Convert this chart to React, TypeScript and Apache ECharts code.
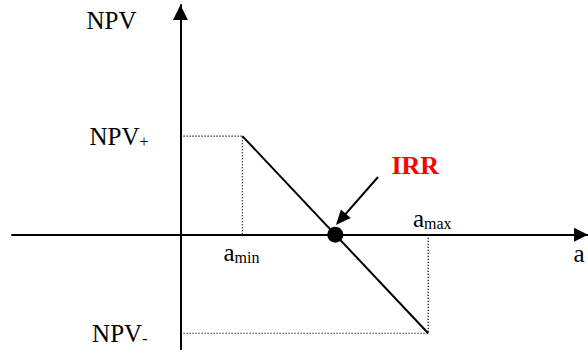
import React, { useEffect, useRef } from "react";
import * as echarts from "echarts";

// Key values on the horizontal axis (a): a_min, IRR, a_max
const keyA = [1, 2.5, 4];
// Key values on the vertical axis (NPV): NPV+, 0, NPV-
const keyNPV = [1, 0, -1];
// Axis ranges
const rangeA = [-2.72, 6.58];
const rangeNPV = [-1.17, 2.33];
// IRR pointer (tail, head) in data coordinates
const pointerTail = [3.19, 0.585];
const pointerHead = [2.59, 0.155];
// Texts
const axisNames = ["a", "NPV"];
const subNames = ["min", "max", "+", "-"];
const irrText = "IRR";

const FONT = "'Liberation Serif', 'Times New Roman', serif";

const rich = {
  m: { fontSize: 25, lineHeight: 26, fontFamily: FONT, color: "#000" },
  s: {
    fontSize: 16,
    lineHeight: 11,
    verticalAlign: "bottom",
    fontFamily: FONT,
    color: "#000",
  },
};

export default function App() {
  const ref = useRef<HTMLDivElement>(null);

  useEffect(() => {
    if (!ref.current) return;
    const chart = echarts.init(ref.current, undefined, { renderer: "svg" });
    const [aMin, aIrr, aMax] = keyA;
    const [npvPlus, zero, npvMinus] = keyNPV;

    const dotted = { color: "#000", width: 1.2, type: [1.2, 1.8] as any };

    chart.setOption({
      animation: false,
      backgroundColor: "#fff",
      grid: { left: 12, right: 0, top: 5, bottom: 0, containLabel: false },
      xAxis: {
        type: "value",
        min: rangeA[0],
        max: rangeA[1],
        axisLine: {
          onZero: true,
          lineStyle: { color: "#000", width: 2 },
          symbol: ["none", "triangle"],
          symbolSize: [14, 14],
          symbolOffset: [0, -7],
        },
        axisTick: { show: false },
        axisLabel: { show: false },
        splitLine: { show: false },
      },
      yAxis: {
        type: "value",
        min: rangeNPV[0],
        max: rangeNPV[1],
        name: axisNames[1],
        nameLocation: "end",
        nameGap: -15,
        nameTextStyle: {
          fontFamily: FONT,
          fontSize: 25,
          color: "#000",
          align: "right",
          verticalAlign: "middle",
          padding: [0, 44, 0, 0],
        },
        axisLine: {
          onZero: true,
          lineStyle: { color: "#000", width: 2 },
          symbol: ["none", "triangle"],
          symbolSize: [15, 15],
          symbolOffset: [0, -7.5],
        },
        axisTick: { show: false },
        axisLabel: { show: false },
        splitLine: { show: false },
      },
      series: [
        {
          type: "line",
          name: "guideMin",
          data: [
            [zero, npvPlus],
            [aMin, npvPlus],
            [aMin, zero],
          ],
          symbol: "none",
          lineStyle: dotted,
          silent: true,
          z: 1,
        },
        {
          type: "line",
          name: "guideMax",
          data: [
            [zero, npvMinus],
            [aMax, npvMinus],
            [aMax, zero],
          ],
          symbol: "none",
          lineStyle: dotted,
          silent: true,
          z: 1,
        },
        {
          type: "line",
          name: "npv",
          data: [
            [aMin, npvPlus],
            [aMax, npvMinus],
          ],
          symbol: "none",
          lineStyle: { color: "#000", width: 2 },
          silent: true,
          z: 3,
          markLine: {
            silent: true,
            symbol: ["none", "triangle"],
            symbolSize: [13, 15],
            lineStyle: { color: "#000", width: 2, type: "solid" },
            label: { show: false },
            data: [[{ coord: pointerTail }, { coord: pointerHead }]],
          },
        },
        {
          type: "scatter",
          name: "irr",
          data: [[aIrr, zero]],
          symbol: "circle",
          symbolSize: 16,
          itemStyle: { color: "#000", opacity: 1 },
          silent: true,
          z: 5,
          label: {
            show: true,
            position: "inside",
            offset: [80, -69],
            formatter: irrText,
            fontFamily: FONT,
            fontSize: 26,
            fontWeight: "bold",
            color: "#ff0000",
          },
        },
        {
          type: "scatter",
          name: "labels",
          symbolSize: 0,
          silent: true,
          itemStyle: { opacity: 1 },
          z: 6,
          data: [
            {
              value: [zero, npvPlus],
              label: {
                show: true,
                position: "left",
                distance: 32,
                formatter: `{m|NPV}{s|${subNames[2]}}`,
                rich,
              },
            },
            {
              value: [zero, npvMinus],
              label: {
                show: true,
                position: "left",
                distance: 33,
                formatter: `{m|NPV}{s|${subNames[3]}}`,
                rich,
              },
            },
            {
              value: [aMin, zero],
              label: {
                show: true,
                position: "bottom",
                distance: 4.6,
                offset: [-1, 0],
                formatter: `{m|a}{s|${subNames[0]}}`,
                rich,
              },
            },
            {
              value: [aMax, zero],
              label: {
                show: true,
                position: "top",
                distance: 3,
                offset: [4, 0],
                formatter: `{m|a}{s|${subNames[1]}}`,
                rich,
              },
            },
            {
              value: [rangeA[1], zero],
              label: {
                show: true,
                position: "bottom",
                distance: 5.6,
                offset: [-9, 0],
                formatter: `{m|${axisNames[0]}}`,
                rich,
              },
            },
          ],
        },
      ],
    });
    return () => chart.dispose();
  }, []);

  return (
    <div
      ref={ref}
      style={{ position: "absolute", left: 0, top: 0, width: 588, height: 350 }}
    />
  );
}
